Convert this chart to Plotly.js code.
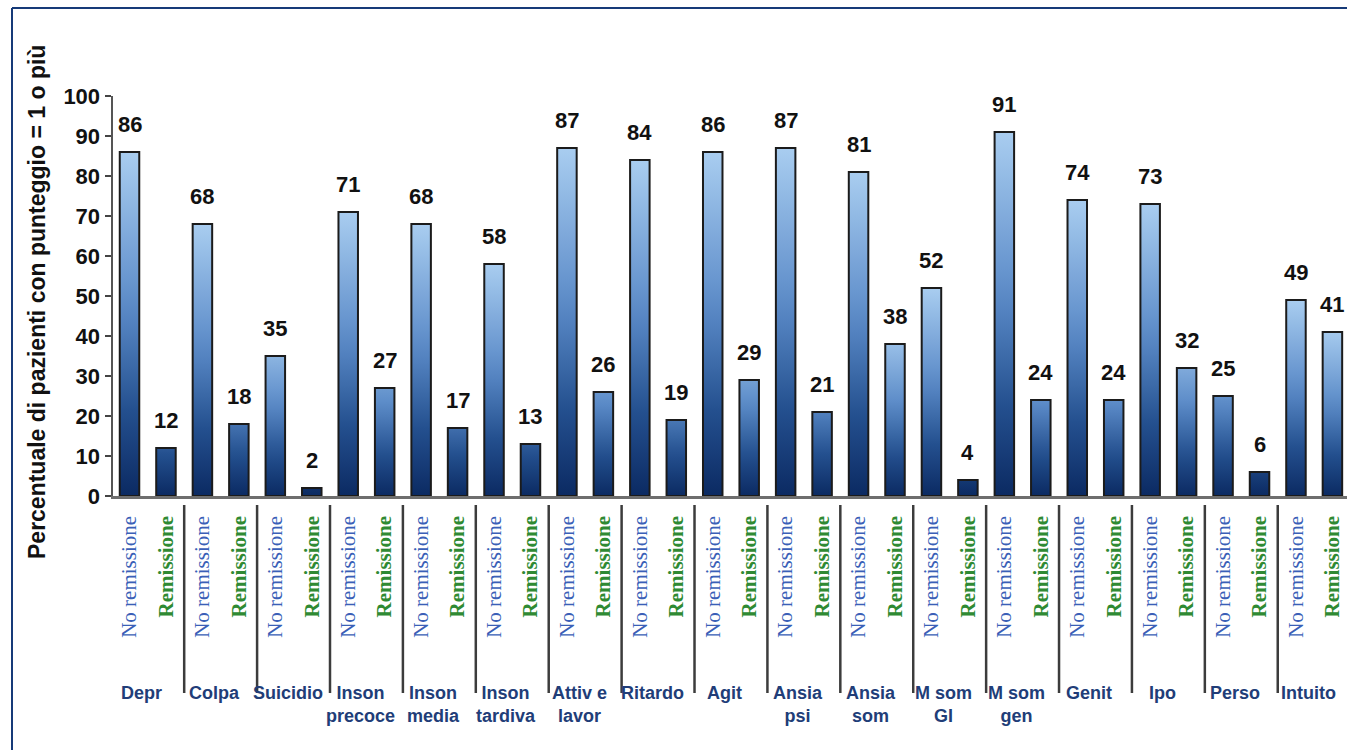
<!DOCTYPE html>
<html>
<head>
<meta charset="utf-8">
<script src="https://cdn.plot.ly/plotly-3.0.1.min.js"></script>
<style>
  html, body { margin: 0; padding: 0; background: #ffffff; }
  #chart { width: 1347px; height: 750px; }
</style>
</head>
<body>
<div id="chart"></div>
<script>
// HAM-D items: share of patients scoring 1 or more, by remission status
const groups = ['Depr', 'Colpa', 'Suicidio', 'Inson<br>precoce', 'Inson<br>media', 'Inson<br>tardiva',
  'Attiv e<br>lavor', 'Ritardo', 'Agit', 'Ansia<br>psi', 'Ansia<br>som', 'M som<br>GI', 'M som<br>gen',
  'Genit', 'Ipo', 'Perso', 'Intuito'];
const noRemissione = [86, 68, 35, 71, 68, 58, 87, 84, 86, 87, 81, 52, 91, 74, 73, 25, 49];
const remissione = [12, 18, 2, 27, 17, 13, 26, 19, 29, 21, 38, 4, 24, 24, 32, 6, 41];
const statusLabels = ['No remissione', 'Remissione'];
const yTicks = [0, 10, 20, 30, 40, 50, 60, 70, 80, 90, 100];
const yTitle = 'Percentuale di pazienti con punteggio = 1 o più';

// pixel geometry of the plotting area
const W = 1347, H = 750;
const M = { l: 113, r: 0, t: 96, b: 254 };
const plotW = W - M.l - M.r, plotH = H - M.t - M.b;
const px2paperX = px => (px - M.l) / plotW;
const px2paperY = py => (H - M.b - py) / plotH;

// each group takes two slots: No remissione, then Remissione
const xNo = groups.map((g, i) => 2 * i);
const xRem = groups.map((g, i) => 2 * i + 1);

const BLUE = '#3a5fb7', GREEN = '#2f8a33', NAVY = '#213d78';
const SANS = 'Liberation Sans, Arial';

const tickVals = [], tickText = [];
groups.forEach((g, i) => {
  tickVals.push(xNo[i], xRem[i]);
  tickText.push('<span style="color:' + BLUE + '">' + statusLabels[0] + '</span>',
    '<span style="color:' + GREEN + '"><b>' + statusLabels[1] + '</b></span>');
});

const barStyle = { color: '#5b8bc8', line: { color: '#1b1b1b', width: 2 } };
const traces = [
  { type: 'bar', x: xNo, y: noRemissione, name: statusLabels[0], width: 0.535, marker: barStyle, hoverinfo: 'y' },
  { type: 'bar', x: xRem, y: remissione, name: statusLabels[1], width: 0.535, marker: barStyle, hoverinfo: 'y' }
];

const annotations = [];
// value labels above bars
[[xNo, noRemissione], [xRem, remissione]].forEach(([xs, vs]) => {
  xs.forEach((x, i) => annotations.push({
    x: x, y: vs[i], xref: 'x', yref: 'y', text: String(vs[i]), showarrow: false,
    yanchor: 'bottom', yshift: 13, font: { family: SANS, size: 22, color: '#111', weight: 'bold' }
  }));
});
// group names beneath the status labels
groups.forEach((g, i) => annotations.push({
  x: 2 * i + 0.5, y: 0, xref: 'x', yref: 'paper', text: g, showarrow: false,
  yanchor: 'top', yshift: -185, xshift: -6, align: 'center',
  font: { family: SANS, size: 18, color: NAVY, weight: 'bold' }
}));
// y axis title
annotations.push({
  x: px2paperX(37), y: px2paperY(302), xref: 'paper', yref: 'paper', text: yTitle, textangle: -90,
  showarrow: false, xanchor: 'center', yanchor: 'middle',
  font: { family: SANS, size: 23, color: '#111', weight: 'bold' }
});

const shapes = [];
// dividers between groups
for (let i = 0; i < groups.length - 1; i++) {
  shapes.push({
    type: 'line', xref: 'x', yref: 'paper', x0: 2 * i + 1.5, x1: 2 * i + 1.5,
    y0: px2paperY(505), y1: px2paperY(693), line: { color: '#3c3c3c', width: 2.5 }
  });
}
// page frame (top and left edges)
shapes.push({ type: 'line', xref: 'paper', yref: 'paper', x0: px2paperX(12), x1: px2paperX(W),
  y0: px2paperY(8), y1: px2paperY(8), line: { color: '#163a78', width: 2 } });
shapes.push({ type: 'line', xref: 'paper', yref: 'paper', x0: px2paperX(12), x1: px2paperX(12),
  y0: px2paperY(8), y1: px2paperY(H), line: { color: '#163a78', width: 2 } });

const layout = {
  width: W, height: H, margin: M, showlegend: false, barmode: 'overlay',
  paper_bgcolor: '#ffffff', plot_bgcolor: '#ffffff',
  xaxis: {
    range: [-0.453, 33.40], tickmode: 'array', tickvals: tickVals, ticktext: tickText,
    tickangle: -90, ticks: '', ticklabelstandoff: 9,
    tickfont: { family: 'Liberation Serif, Times New Roman', size: 21, color: BLUE },
    showline: true, linecolor: '#6e6e6e', linewidth: 2.5, showgrid: false, zeroline: false, fixedrange: true
  },
  yaxis: {
    range: [0, 100], tickmode: 'array', tickvals: yTicks, ticks: 'outside', ticklen: 6, tickwidth: 2,
    tickcolor: '#444', tickfont: { family: SANS, size: 22, color: '#111', weight: 'bold' },
    showline: true, linecolor: '#555', linewidth: 2.5, showgrid: false, zeroline: false, fixedrange: true
  },
  annotations: annotations, shapes: shapes
};

// vertical light-to-navy fill for each bar; short bars only reach the darker part of the ramp
const ramp = [[0, [11, 42, 98]], [0.25, [36, 80, 143]], [0.55, [91, 139, 200]], [1, [169, 205, 240]]];
function rampColor(s) {
  for (let k = 1; k < ramp.length; k++) {
    if (s <= ramp[k][0]) {
      const a = ramp[k - 1], b = ramp[k], t = (s - a[0]) / (b[0] - a[0]);
      const c = a[1].map((v, j) => Math.round(v + (b[1][j] - v) * t));
      return 'rgb(' + c.join(',') + ')';
    }
  }
  return 'rgb(' + ramp[ramp.length - 1][1].join(',') + ')';
}
function applyGradients(gd) {
  const NS = 'http://www.w3.org/2000/svg';
  const defs = gd.querySelector('.main-svg defs');
  const series = [noRemissione, remissione];
  gd.querySelectorAll('.barlayer .trace').forEach((tr, ti) => {
    tr.querySelectorAll('.point path').forEach((p, pi) => {
      const v = series[ti][pi];
      const top = Math.min(1, v / 42);
      const id = 'barfill-' + ti + '-' + pi;
      const lg = document.createElementNS(NS, 'linearGradient');
      lg.setAttribute('id', id);
      lg.setAttribute('x1', '0'); lg.setAttribute('y1', '0');
      lg.setAttribute('x2', '0'); lg.setAttribute('y2', '1');
      for (let o = 0; o <= 1.0001; o += 0.125) {
        const st = document.createElementNS(NS, 'stop');
        st.setAttribute('offset', o.toFixed(3));
        st.setAttribute('stop-color', rampColor(top * (1 - o)));
        lg.appendChild(st);
      }
      defs.appendChild(lg);
      p.style.setProperty('fill', 'url(#' + id + ')');
      p.style.setProperty('fill-opacity', '1');
    });
  });
}

Plotly.newPlot('chart', traces, layout, { displayModeBar: false, staticPlot: true })
  .then(applyGradients);
</script>
</body>
</html>
